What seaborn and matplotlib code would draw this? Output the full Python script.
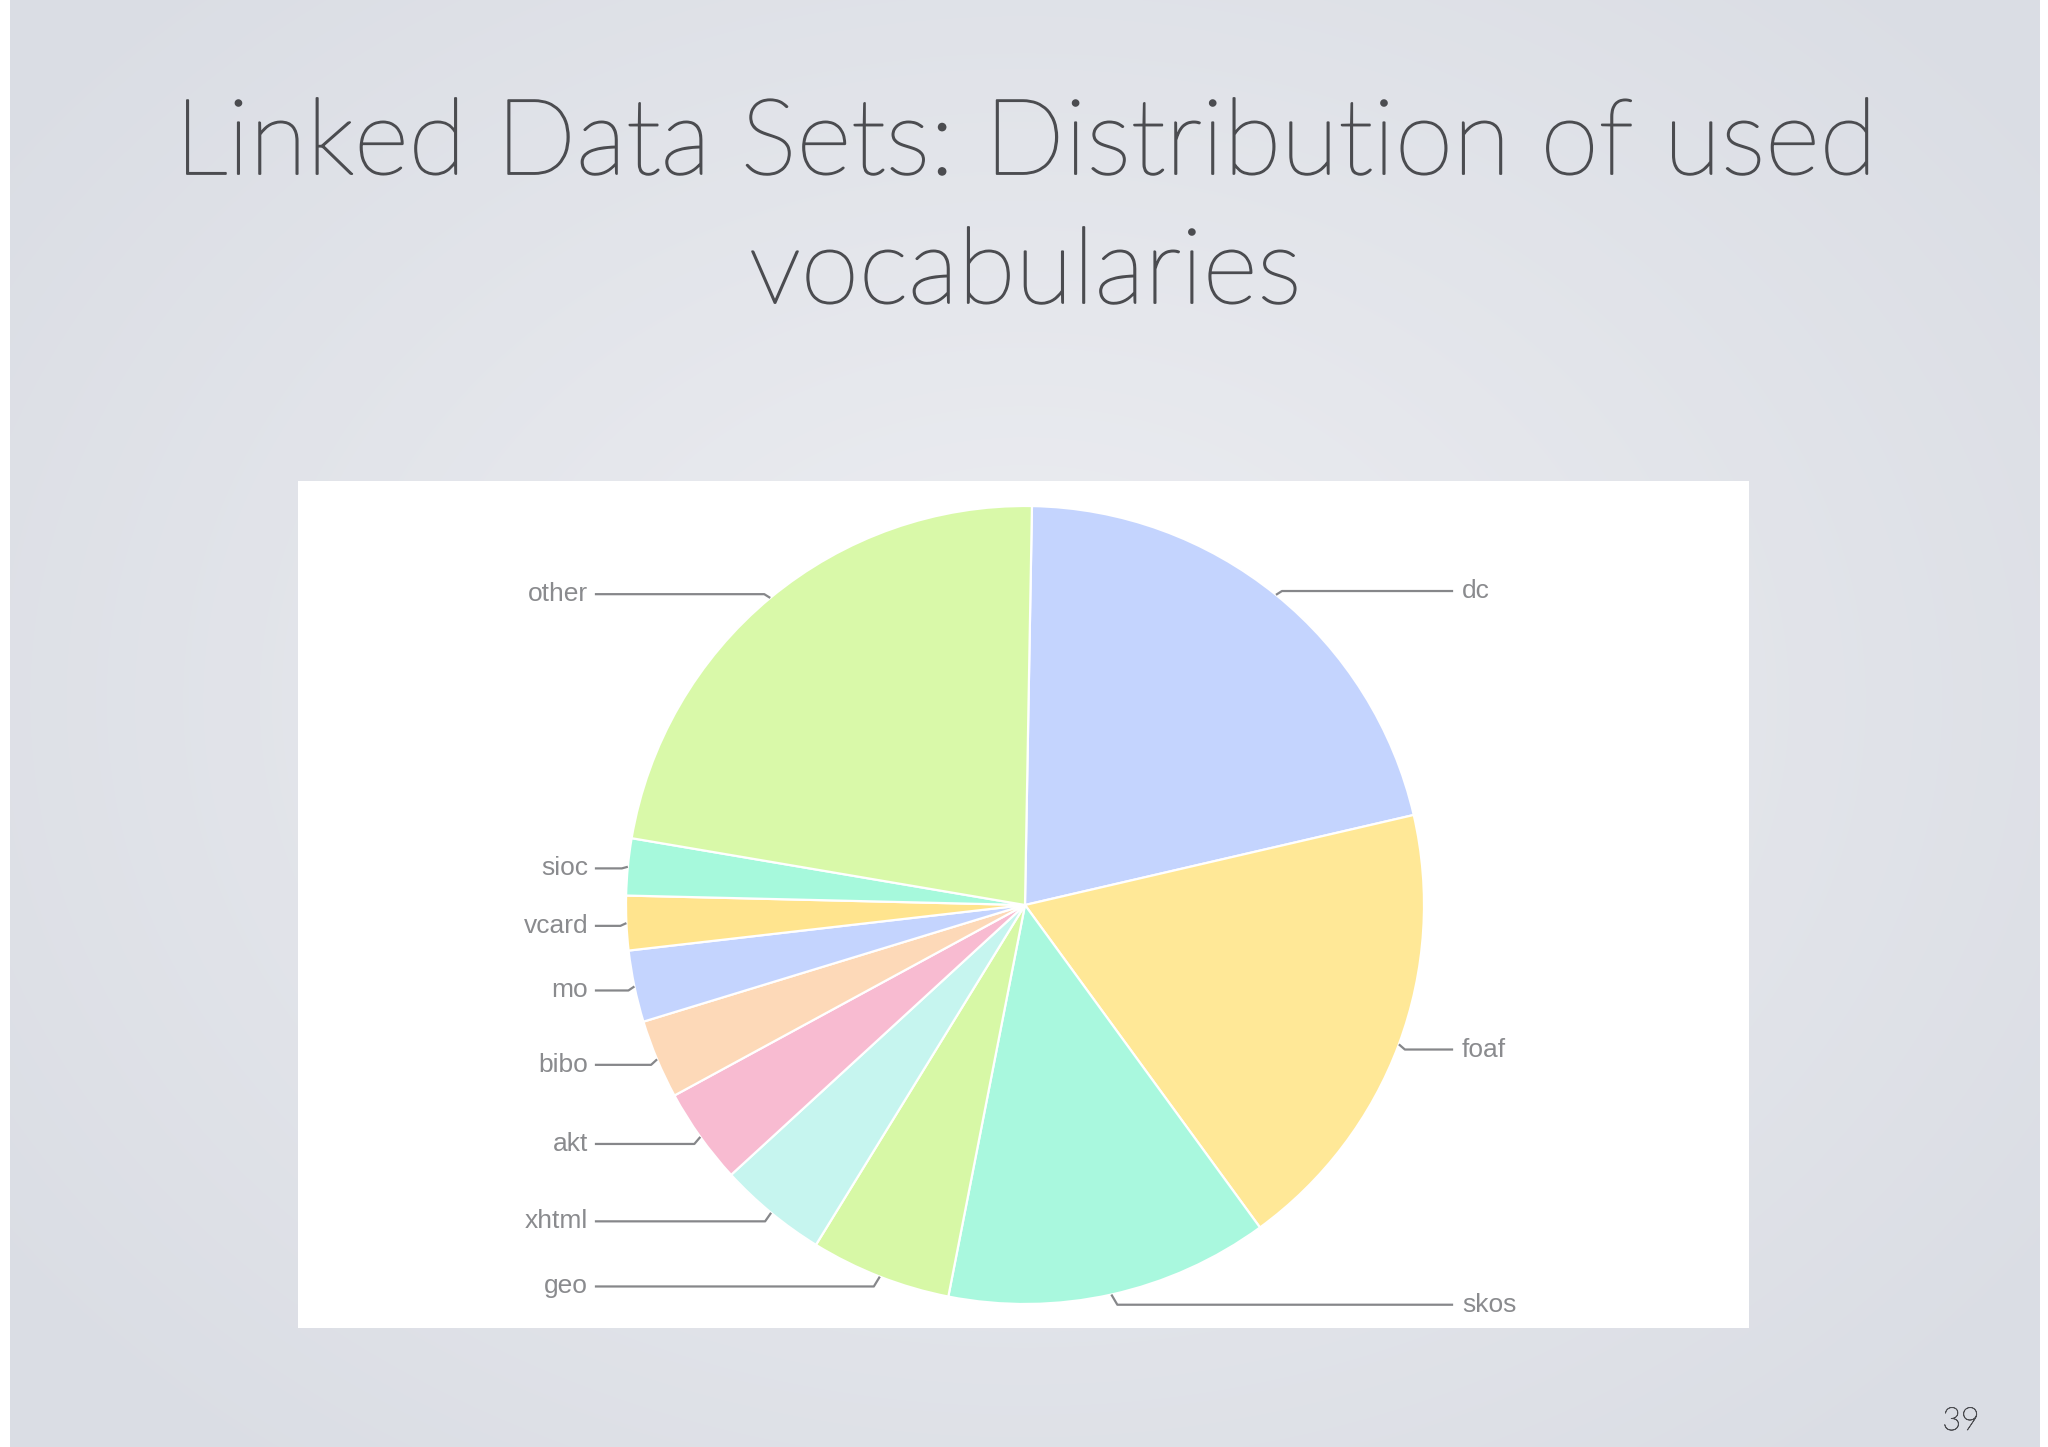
import matplotlib
matplotlib.use('Agg')
import matplotlib.pyplot as plt
import matplotlib.patheffects as pe
import numpy as np
import seaborn as sns

# vocabulary share (percent), clockwise from 12 o'clock
vocabs = ['dc', 'foaf', 'skos', 'geo', 'xhtml', 'akt', 'bibo', 'mo', 'vcard', 'sioc', 'other']
shares = [21.1, 18.6, 13.1, 5.7, 4.4, 3.9, 3.2, 2.9, 2.2, 2.3, 22.6]
slice_colors = ['#c4d4fe', '#ffe897', '#a9f8de', '#d7f8a6', '#c6f5ef', '#f8bbd1',
                '#fdd9b8', '#c4d4fe', '#ffe48e', '#a6f9dc', '#d9f9a9']

title_lines = ['Linked Data Sets: Distribution of used', 'vocabularies']
page_no = '39'

sns.set_theme(style='white')

W, H = 2048, 1447
fig = plt.figure(figsize=(W / 100, H / 100), dpi=100)

# slide background: soft radial gradient
bg = fig.add_axes([0, 0, 1, 1])
yy, xx = np.mgrid[0:H, 0:W]
d = np.sqrt(((xx - 1024) / 1300.0) ** 2 + ((yy - 700) / 1000.0) ** 2)
d = np.clip(d, 0, 1)
c0 = np.array([237, 238, 242]) / 255.0
c1 = np.array([218, 221, 228]) / 255.0
img = c0[None, None, :] * (1 - d[..., None]) + c1[None, None, :] * d[..., None]
bg.imshow(img, extent=[0, W, H, 0], aspect='auto')
bg.add_patch(plt.Rectangle((0, 0), 10, H, color='white', lw=0))
bg.add_patch(plt.Rectangle((2040, 0), 8, H, color='white', lw=0))
bg.set_xlim(0, W)
bg.set_ylim(H, 0)
bg.axis('off')

# title and page number (light face, thickened slightly)
title_font = ['Lato', 'DejaVu Sans']
title_col = '#4b4c50'
thicken = [pe.withStroke(linewidth=1.3, foreground=title_col)]
for y, line in zip([174, 303], title_lines):
    bg.text(1025, y, line, ha='center', va='baseline', fontsize=76,
            fontweight='light', color=title_col, family=title_font,
            path_effects=thicken)
bg.text(1961, 1430, page_no, ha='center', va='baseline', fontsize=23,
        fontweight='light', color=title_col, family=title_font,
        path_effects=[pe.withStroke(linewidth=0.5, foreground=title_col)])

# white chart panel
px0, px1, py0, py1 = 298, 1749, 481, 1328
cx, cy, r = 1025, 905, 399.0
ax = fig.add_axes([px0 / W, (H - py1) / H, (px1 - px0) / W, (py1 - py0) / H])

palette = sns.color_palette(slice_colors)
wedges, _ = ax.pie(shares, colors=palette, startangle=89, counterclock=False,
                   radius=1, center=(0, 0),
                   wedgeprops=dict(edgecolor='white', linewidth=1.6))

ax.set_frame_on(True)
ax.patch.set_facecolor('white')
ax.patch.set_visible(True)
for s in ax.spines.values():
    s.set_visible(False)
ax.set_xlim((px0 - cx) / r, (px1 - cx) / r)
ax.set_ylim((cy - py1) / r, (cy - py0) / r)
ax.set_aspect('auto')
ax.set_xticks([])
ax.set_yticks([])

# leader lines and labels
line_col = '#86878a'
text_col = '#8a8b8e'
x_line_r, x_text_r = 1.073, 1.095
x_line_l, x_text_l = -1.078, -1.095
for w, name in zip(wedges, vocabs):
    mid = np.deg2rad((w.theta1 + w.theta2) / 2)
    ex, ey = np.cos(mid), np.sin(mid)
    ly = ey * 1.02 - 0.006
    side = 1 if ex >= 0 else -1
    bx = ex + side * 0.015
    x_end = x_line_r if side > 0 else x_line_l
    ax.plot([ex, bx, x_end], [ey, ly, ly], color=line_col, lw=1.6,
            solid_capstyle='butt', zorder=3)
    ax.text(x_text_r if side > 0 else x_text_l, ly, name,
            ha='left' if side > 0 else 'right', va='center', fontsize=19,
            color=text_col, family=['Liberation Sans', 'DejaVu Sans'])

fig.savefig('out.png', dpi=100)
